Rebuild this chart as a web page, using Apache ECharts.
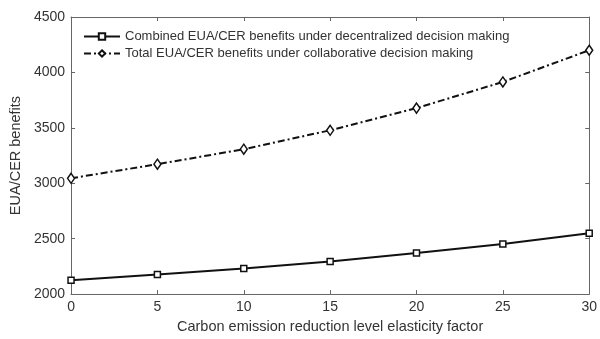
<!DOCTYPE html>
<html>
<head>
<meta charset="utf-8">
<script src="https://cdn.jsdelivr.net/npm/echarts@6/dist/echarts.min.js"></script>
<style>
html,body{margin:0;padding:0;background:#fff;}
#c{width:600px;height:339px;}
</style>
</head>
<body>
<div id="c"></div>
<script>
const xValues = [0, 5, 10, 15, 20, 25, 30];
const decentralized = [2125, 2177, 2232, 2294, 2371, 2453, 2548];
const collaborative = [3045, 3172, 3307, 3478, 3678, 3914, 4200];
const seriesNames = [
  'Combined EUA/CER benefits under decentralized decision making',
  'Total EUA/CER benefits under collaborative decision making'
];
const xAxisTitle = 'Carbon emission reduction level elasticity factor';
const yAxisTitle = 'EUA/CER benefits';

const FONT = 'Liberation Sans, Arial, sans-serif';
const axisColor = '#666';
const textColor = '#333';

const chart = echarts.init(document.getElementById('c'), null, {renderer: 'canvas'});
const pairs = (ys) => xValues.map((x, i) => [x, ys[i]]);

const axisCommon = {
  axisLine: {show: true, onZero: false, lineStyle: {color: axisColor, width: 1}},
  axisTick: {show: true, inside: true, length: 4, lineStyle: {color: axisColor}},
  splitLine: {show: false}
};

chart.setOption({
  animation: false,
  textStyle: {fontFamily: FONT},
  grid: {left: 69, right: 9, top: 17, bottom: 39},
  legend: {
    orient: 'vertical',
    left: 78,
    top: 25,
    itemWidth: 36,
    itemHeight: 8,
    itemGap: 4,
    textStyle: {fontFamily: FONT, fontSize: 13, color: textColor},
    data: seriesNames
  },
  xAxis: [
    Object.assign({
      type: 'value', min: 0, max: 30, interval: 5, position: 'bottom',
      name: xAxisTitle, nameLocation: 'middle', nameGap: 22,
      nameTextStyle: {fontFamily: FONT, fontSize: 14.5, color: textColor},
      axisLabel: {fontFamily: FONT, fontSize: 14, color: textColor, margin: 6, formatter: (v) => String(v)}
    }, axisCommon),
    Object.assign({
      type: 'value', min: 0, max: 30, interval: 5, position: 'top',
      axisLabel: {show: false}
    }, axisCommon)
  ],
  yAxis: [
    Object.assign({
      type: 'value', min: 2000, max: 4500, interval: 500, position: 'left',
      name: yAxisTitle, nameLocation: 'middle', nameGap: 46, nameRotate: 90,
      nameTextStyle: {fontFamily: FONT, fontSize: 14.5, color: textColor},
      axisLabel: {fontFamily: FONT, fontSize: 14, color: textColor, margin: 6, formatter: (v) => String(v)}
    }, axisCommon),
    Object.assign({
      type: 'value', min: 2000, max: 4500, interval: 500, position: 'right',
      axisLabel: {show: false}
    }, axisCommon)
  ],
  series: [
    {
      name: seriesNames[0], type: 'line', data: pairs(decentralized),
      symbol: 'rect', symbolSize: 6,
      lineStyle: {color: '#111', width: 2, type: 'solid'},
      itemStyle: {color: '#fff', borderColor: '#111', borderWidth: 1.5},
      emphasis: {disabled: true}
    },
    {
      name: seriesNames[1], type: 'line', data: pairs(collaborative),
      symbol: 'diamond', symbolSize: [7, 10],
      lineStyle: {color: '#111', width: 2, type: [7, 3, 2, 3]},
      itemStyle: {color: '#fff', borderColor: '#111', borderWidth: 1.5},
      emphasis: {disabled: true}
    }
  ]
});
</script>
</body>
</html>
